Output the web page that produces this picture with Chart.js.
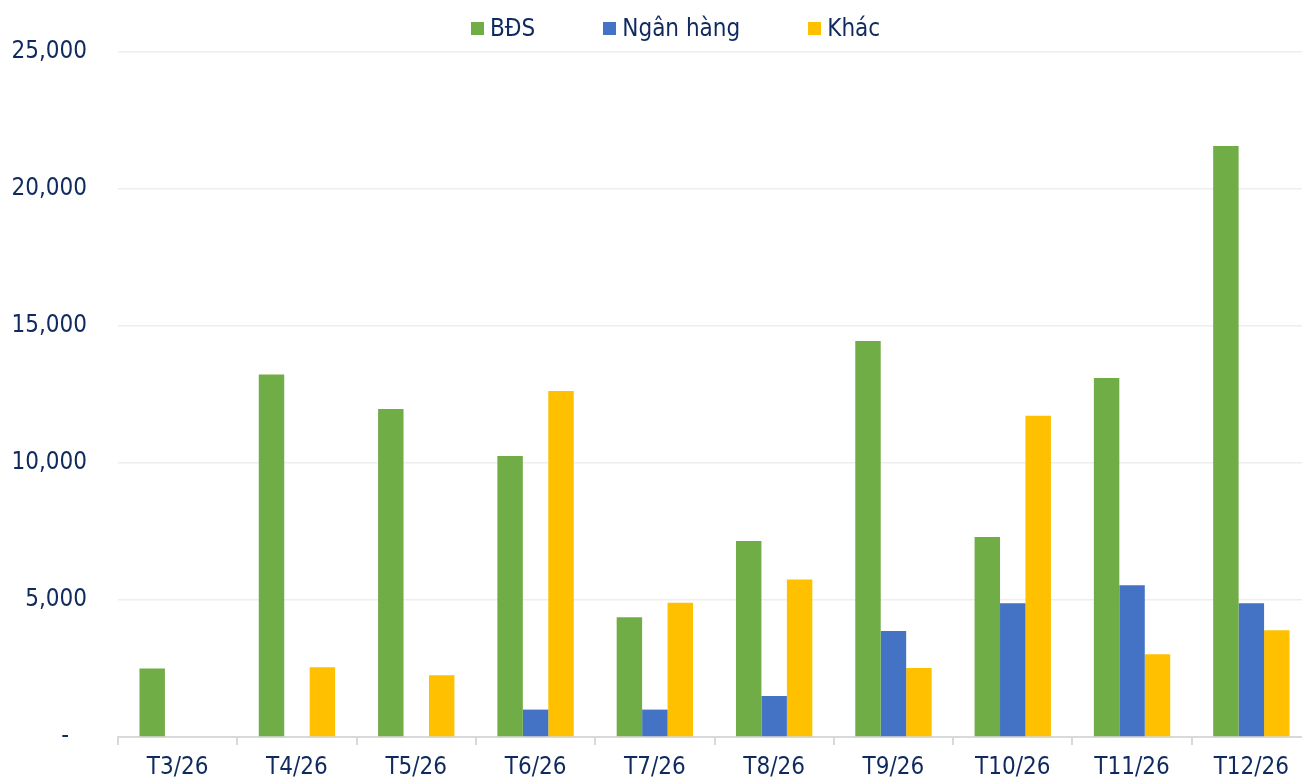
<!DOCTYPE html>
<html>
<head>
  <meta charset="utf-8">
  <title>BĐS - Ngân hàng - Khác</title>
  <script src="https://cdn.jsdelivr.net/npm/chart.js"></script>
  <style>
    html, body { margin: 0; padding: 0; background: #fff; overflow: hidden; }
    /* the original plot runs a little past the right edge of the picture,
       so the canvas is a bit wider than the visible frame */
    #wrap { position: relative; width: 1302px; height: 783px; overflow: hidden; }
    #chart { display: block; }
    #legend {
      position: absolute; top: 12px; left: 471px;
      display: flex; align-items: center;
      font-family: 'DejaVu Sans Condensed', 'DejaVu Sans', sans-serif;
      font-size: 24px; color: #0f2a5f; line-height: 32px;
    }
    #legend .item { display: flex; align-items: center; margin-right: 68px; }
    #legend .item:last-child { margin-right: 0; }
    #legend .box { width: 13px; height: 13px; margin-right: 6px; }
  </style>
</head>
<body>
  <div id="wrap">
    <canvas id="chart" width="1311" height="783"></canvas>
    <div id="legend"></div>
  </div>

  <script>
    const months = ['T3/26', 'T4/26', 'T5/26', 'T6/26', 'T7/26', 'T8/26', 'T9/26', 'T10/26', 'T11/26', 'T12/26'];
    const bds = [2500, 13230, 11970, 10260, 4370, 7150, 14450, 7300, 13100, 21570];
    const nganHang = [0, 0, 0, 1000, 1000, 1500, 3870, 4880, 5540, 4880];
    const khac = [0, 2550, 2250, 12630, 4900, 5750, 2520, 11720, 3020, 3900];
    const yTicks = [0, 5000, 10000, 15000, 20000, 25000];

    const FONT = "'DejaVu Sans Condensed', 'DejaVu Sans', sans-serif";
    const TEXT = '#0f2a5f';

    const series = [
      { label: 'BĐS', data: bds, color: '#70AD47' },
      { label: 'Ngân hàng', data: nganHang, color: '#4472C4' },
      { label: 'Khác', data: khac, color: '#FFC000' }
    ];

    // html legend so the item spacing can match the original
    document.getElementById('legend').innerHTML = series.map(s =>
      `<div class="item"><span class="box" style="background:${s.color}"></span><span>${s.label}</span></div>`
    ).join('');

    new Chart(document.getElementById('chart'), {
      type: 'bar',
      data: {
        labels: months,
        datasets: series.map(s => ({
          label: s.label,
          data: s.data,
          backgroundColor: s.color,
          borderWidth: 0,
          categoryPercentage: 0.64,
          barPercentage: 1.0
        }))
      },
      options: {
        responsive: false,
        animation: false,
        layout: { padding: { top: 52, left: 0, right: 0, bottom: 0 } },
        plugins: {
          legend: { display: false },
          tooltip: { enabled: false }
        },
        scales: {
          x: {
            offset: true,
            grid: {
              offset: true,
              drawOnChartArea: false,
              drawTicks: true,
              tickLength: 8,
              color: '#d9d9d9',
              lineWidth: 2
            },
            border: { display: true, color: '#d9d9d9', width: 2 },
            ticks: {
              color: TEXT,
              padding: 8,
              font: { family: FONT, size: 24 },
              maxRotation: 0
            },
            afterFit: scale => { scale.height = 46; }
          },
          y: {
            min: 0,
            max: 25000,
            afterBuildTicks: scale => { scale.ticks = yTicks.map(v => ({ value: v })); },
            grid: { color: '#eeeeee', lineWidth: 1.5, drawTicks: false },
            border: { display: false },
            ticks: {
              color: TEXT,
              padding: 31,
              font: { family: FONT, size: 24 },
              callback: v => v === 0 ? '-\u2007\u2009' : v.toLocaleString('en-US')
            },
            afterFit: scale => { scale.width = 118; }
          }
        }
      }
    });
  </script>
</body>
</html>
